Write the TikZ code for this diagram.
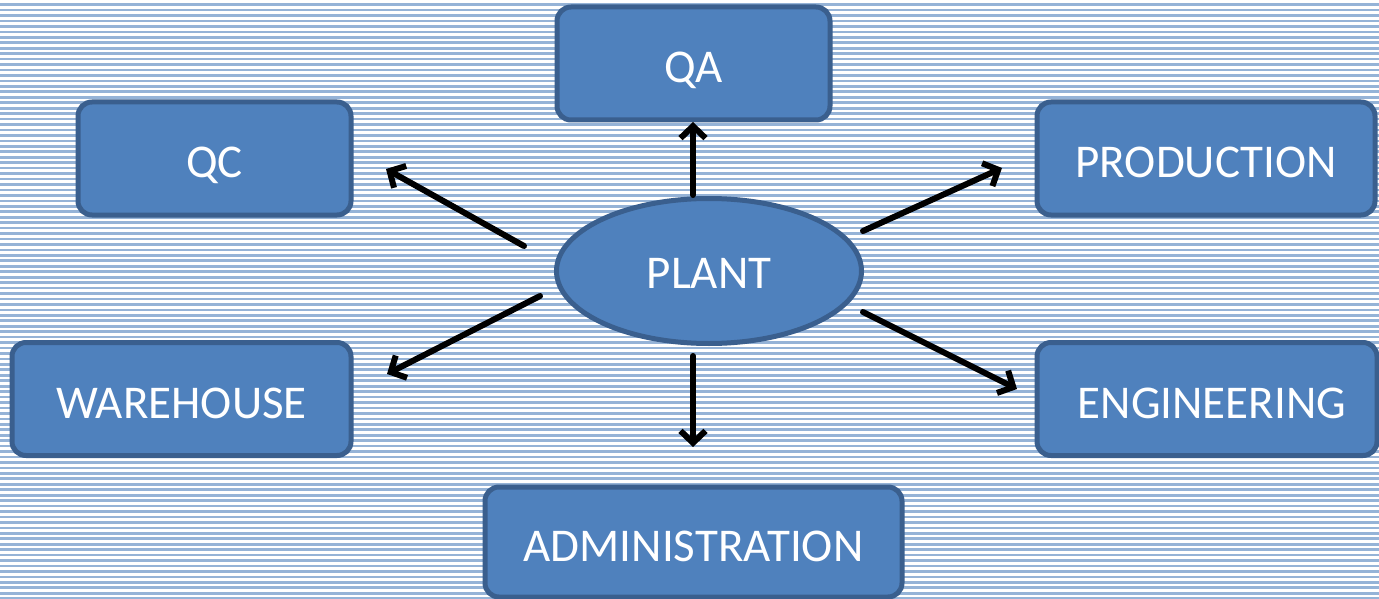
\documentclass[tikz,border=0pt]{standalone}
\usepackage{fontspec}
\setmainfont{Carlito}
\usetikzlibrary{arrows.meta,shapes.geometric}
\definecolor{boxfill}{HTML}{4F81BD}
\definecolor{boxline}{HTML}{3A5F8E}
\definecolor{stripe}{HTML}{95B3D7}
\tikzset{
  box/.style={draw=boxline, line width=5pt, fill=boxfill, rounded corners=14pt,
    text=white, font=\fontsize{47}{56}\selectfont, inner sep=0pt,
    text height=38pt, text depth=0pt},
  hub/.style={ellipse, draw=boxline, line width=5pt, fill=boxfill,
    text=white, font=\fontsize{47}{56}\selectfont, inner sep=0pt,
    text height=34pt, text depth=0pt,
    minimum width=305pt, minimum height=145pt},
  link/.style={line width=6pt, -{Straight Barb[length=12pt,width=25pt,line width=6pt]}, line cap=round}
}
\begin{document}
\begin{tikzpicture}[x=1pt,y=-1pt]
\useasboundingbox (0,0) rectangle (1379,599);
\fill[white] (0,0) rectangle (1379,599);
\foreach \i in {0,...,110} {
  \fill[stripe] (0,{3.3+\i*5.45}) rectangle (1379,{3.3+\i*5.45+2.7});
}
\node[box, minimum width=273pt, minimum height=113pt] (qa) at (693.5,63.5) {QA};
\node[box, minimum width=273pt, minimum height=113pt] (qc) at (214.5,158.5) {QC};
\node[box, minimum width=338pt, minimum height=113pt] (prod) at (1206,158.5) {PRODUCTION};
\node[box, minimum width=339pt, minimum height=113pt] (ware) at (181.5,399) {WAREHOUSE};
\node[box, minimum width=340pt, minimum height=113pt] (eng) at (1207,399) {\hspace*{10pt}ENGINEERING};
\node[box, minimum width=417pt, minimum height=110pt] (adm) at (693.5,542) {ADMINISTRATION};
\node[hub] (plant) at (709,271) {PLANT};

\coordinate (qa-s) at (693,195);   \coordinate (qa-e) at (693,122);
\coordinate (qc-s) at (524,246);   \coordinate (qc-e) at (386,169);
\coordinate (prod-s) at (863,231); \coordinate (prod-e) at (1002,168);
\coordinate (ware-s) at (540,296); \coordinate (ware-e) at (387,374);
\coordinate (eng-s) at (863,312);  \coordinate (eng-e) at (1017,389);
\coordinate (adm-s) at (693,356);  \coordinate (adm-e) at (693,447);

\draw[link] (qa-s) -- (qa-e);
\draw[link] (qc-s) -- (qc-e);
\draw[link] (prod-s) -- (prod-e);
\draw[link] (ware-s) -- (ware-e);
\draw[link] (eng-s) -- (eng-e);
\draw[link] (adm-s) -- (adm-e);
\end{tikzpicture}
\end{document}
